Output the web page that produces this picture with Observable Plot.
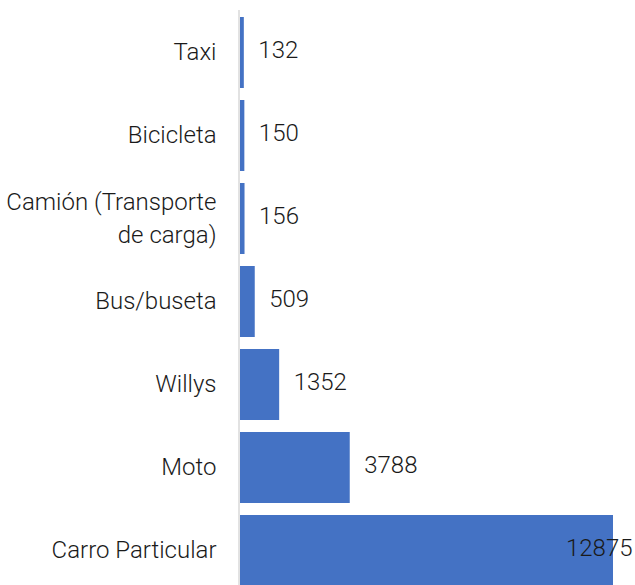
<!DOCTYPE html>
<html>
<head>
<meta charset="utf-8">
<script src="https://cdn.jsdelivr.net/npm/d3@7"></script>
<script src="https://cdn.jsdelivr.net/npm/@observablehq/plot@0.6"></script>
<style>
  html, body { margin: 0; padding: 0; background: #fff; overflow: hidden; }
</style>
</head>
<body>
<div id="chart"></div>
<script>
const categories = ["Taxi", "Bicicleta", "Camión (Transporte de carga)", "Bus/buseta", "Willys", "Moto", "Carro Particular"];
const tickLabels = ["Taxi", "Bicicleta", "Camión (Transporte\nde carga)", "Bus/buseta", "Willys", "Moto", "Carro Particular"];
const values = [132, 150, 156, 509, 1352, 3788, 12875];

const data = categories.map((c, i) => ({category: c, label: tickLabels[i], value: values[i]}));
const maxVal = d3.max(values);

const textStyle = {fontSize: 24, fill: "#1a1a1a", fontWeight: 300, dy: -3};

const chart = Plot.plot({
  width: 635,
  height: 585,
  marginTop: 10,
  marginBottom: 0,
  marginLeft: 240,
  marginRight: 22,
  style: {fontFamily: "Roboto", background: "#fff"},
  x: {domain: [0, maxVal], range: [240, 613], axis: null},
  y: {domain: categories, range: [8.75, 593.25], paddingInner: 0.15, paddingOuter: 0.075, axis: null},
  marks: [
    Plot.barX(data, {x: "value", y: "category", fill: "#4472C4"}),
    Plot.ruleX([0], {stroke: "#d9d9d9", strokeWidth: 1.5, dx: -1.5}),
    Plot.text(data, {x: 0, y: "category", text: "label", textAnchor: "end", dx: -24, lineHeight: 1.35, ...textStyle}),
    Plot.text(data.filter(d => d.value < maxVal), {x: "value", y: "category", text: d => String(d.value), textAnchor: "start", dx: 14, ...textStyle}),
    Plot.text(data.filter(d => d.value === maxVal), {x: "value", y: "category", text: d => String(d.value), textAnchor: "end", dx: 19, ...textStyle})
  ]
});
document.getElementById("chart").append(chart);
</script>
</body>
</html>
